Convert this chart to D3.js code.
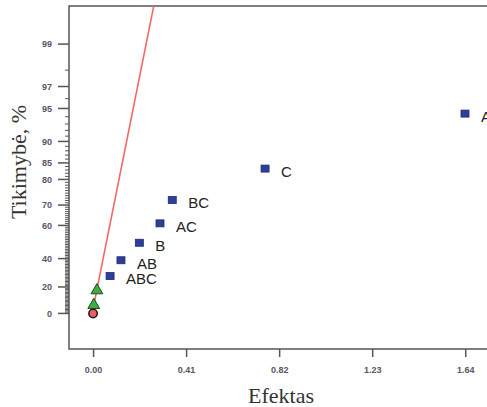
<!DOCTYPE html>
<html>
<head>
<meta charset="utf-8">
<script src="https://cdn.jsdelivr.net/npm/d3@7"></script>
<style>
  body { margin: 0; background: #fff; }
  .tick-label { font-family: "Liberation Sans", Arial, sans-serif; font-size: 9px; font-weight: bold; fill: #5a5560; }
  .pt-label { font-family: "Liberation Sans", Arial, sans-serif; font-size: 15px; fill: #222; }
  .axis-title { font-family: "Liberation Serif", "Times New Roman", serif; font-size: 22px; fill: #333; }
</style>
</head>
<body>
<div class="chart"></div>
<script>
// chart values
var effectNames = ["A", "C", "BC", "AC", "B", "AB", "ABC"];
var effectValues = [1.639, 0.758, 0.349, 0.295, 0.204, 0.123, 0.075];
var effectProbs = [94.4, 83.4, 72.2, 61.1, 50.1, 38.9, 27.9];

// error estimates (green triangles) and the zero point (red circle)
var errorValues = [0.017, 0.003];
var errorProbs = [16.7, 5.6];
var zeroValues = [0.0];
var zeroProbs = [0.0];

// fitted line through the small effects
var lineValues = [-0.004, 0.27];
var lineProbs = [0, 99.7];

var xTicks = [0, 0.41, 0.82, 1.23, 1.64];
var yTicks = [0, 20, 40, 60, 70, 80, 85, 90, 95, 97, 99];

// chart area
var svgWidth = 487;
var svgHeight = 407;
var margin = { top: 6, right: -10, bottom: 58, left: 69 };
var width = svgWidth - margin.left - margin.right;
var height = svgHeight - margin.top - margin.bottom;

// inverse normal cdf (Acklam), used for the half-normal probability scale
function probit(p) {
  var a = [-39.6968302866538, 220.946098424521, -275.928510446969, 138.357751867269, -30.6647980661472, 2.50662827745924];
  var b = [-54.4760987982241, 161.585836858041, -155.698979859887, 66.8013118877197, -13.2806815528857];
  var c = [-0.00778489400243029, -0.322396458041136, -2.40075827716184, -2.54973253934373, 4.37466414146497, 2.93816398269878];
  var d = [0.00778469570904146, 0.32246712907004, 2.445134137143, 3.75440866190742];
  var q, r;
  if (p < 0.02425) {
    q = Math.sqrt(-2 * Math.log(p));
    return (((((c[0]*q+c[1])*q+c[2])*q+c[3])*q+c[4])*q+c[5]) / ((((d[0]*q+d[1])*q+d[2])*q+d[3])*q+1);
  }
  if (p > 1 - 0.02425) {
    q = Math.sqrt(-2 * Math.log(1 - p));
    return -(((((c[0]*q+c[1])*q+c[2])*q+c[3])*q+c[4])*q+c[5]) / ((((d[0]*q+d[1])*q+d[2])*q+d[3])*q+1);
  }
  q = p - 0.5;
  r = q * q;
  return (((((a[0]*r+a[1])*r+a[2])*r+a[3])*r+a[4])*r+a[5])*q / (((((b[0]*r+b[1])*r+b[2])*r+b[3])*r+b[4])*r+1);
}

// half-normal: percent -> z
function halfZ(pct) {
  if (pct <= 0) return 0;
  return probit(0.5 + pct / 200);
}

var svg = d3.select(".chart")
  .append("svg")
  .attr("width", svgWidth)
  .attr("height", svgHeight);

var chartGroup = svg.append("g")
  .attr("transform", `translate(${margin.left}, ${margin.top})`);

var xScale = d3.scaleLinear().domain([-0.106, 1.78]).range([0, width]);
var zScale = d3.scaleLinear().domain([-0.34, 2.94]).range([height, 0]);
var yScale = function(pct) { return zScale(halfZ(pct)); };

svg.append("defs").append("clipPath").attr("id", "plot-clip")
  .append("rect").attr("width", width).attr("height", height);

// frame (right side runs off the picture)
var frameColor = "#555";
chartGroup.append("path")
  .attr("d", `M${width},0H0V${height}H${width}`)
  .attr("fill", "none")
  .attr("stroke", frameColor)
  .attr("stroke-width", 1.5);

// x axis
var bottomAxis = d3.axisBottom(xScale)
  .tickValues(xTicks)
  .tickSize(8)
  .tickPadding(10)
  .tickFormat(d3.format(".2f"));

var xAxis = chartGroup.append("g")
  .attr("transform", `translate(0, ${height})`)
  .call(bottomAxis);
xAxis.select(".domain").remove();
xAxis.selectAll(".tick line").attr("stroke", frameColor).attr("stroke-width", 1.5);
xAxis.selectAll(".tick text").attr("class", "tick-label").attr("font-size", null).attr("font-family", null).attr("fill", null);

// y axis: minor ticks at every percent, major ones labelled
var minorTicks = d3.range(1, 99).filter(function(p) { return yTicks.indexOf(p) < 0; });
chartGroup.append("g")
  .selectAll("line")
  .data(minorTicks)
  .enter()
  .append("line")
  .attr("x1", -4)
  .attr("x2", 0)
  .attr("y1", d => yScale(d))
  .attr("y2", d => yScale(d))
  .attr("stroke", frameColor)
  .attr("stroke-width", 1);

var yAxisG = chartGroup.append("g");
yAxisG.selectAll("line")
  .data(yTicks)
  .enter()
  .append("line")
  .attr("x1", -11)
  .attr("x2", 0)
  .attr("y1", d => yScale(d))
  .attr("y2", d => yScale(d))
  .attr("stroke", frameColor)
  .attr("stroke-width", 1.5);

yAxisG.selectAll("text")
  .data(yTicks)
  .enter()
  .append("text")
  .attr("class", "tick-label")
  .attr("x", -17)
  .attr("y", d => yScale(d))
  .attr("dy", "0.35em")
  .attr("text-anchor", "end")
  .text(d => d);

// fitted line, extended to the top of the plot
var z0 = halfZ(lineProbs[0]), z1 = halfZ(lineProbs[1]);
var slope = (lineValues[1] - lineValues[0]) / (z1 - z0);
var zTop = zScale.domain()[1] + 0.05;
chartGroup.append("line")
  .attr("clip-path", "url(#plot-clip)")
  .attr("x1", xScale(lineValues[0]))
  .attr("y1", zScale(z0))
  .attr("x2", xScale(lineValues[0] + slope * (zTop - z0)))
  .attr("y2", zScale(zTop))
  .attr("stroke", "#ee6a6a")
  .attr("stroke-width", 1.6);

// zero point
chartGroup.selectAll(".zero")
  .data(zeroValues)
  .enter()
  .append("circle")
  .attr("class", "zero")
  .attr("cx", d => xScale(d))
  .attr("cy", (d, i) => yScale(zeroProbs[i]))
  .attr("r", 4.2)
  .attr("fill", "#e8626a")
  .attr("stroke", "#2a1010")
  .attr("stroke-width", 1.5);

// error estimates
var tri = d3.symbol().type(d3.symbolTriangle).size(60);
chartGroup.selectAll(".err")
  .data(errorValues)
  .enter()
  .append("path")
  .attr("class", "err")
  .attr("d", tri)
  .attr("transform", (d, i) => `translate(${xScale(d)}, ${yScale(errorProbs[i]) - 1})`)
  .attr("fill", "#3fae3f")
  .attr("stroke", "#1d4d1d")
  .attr("stroke-width", 1);

// effects
chartGroup.selectAll(".eff")
  .data(effectValues)
  .enter()
  .append("rect")
  .attr("class", "eff")
  .attr("x", d => xScale(d) - 4)
  .attr("y", (d, i) => yScale(effectProbs[i]) - 3.5)
  .attr("width", 8)
  .attr("height", 7)
  .attr("fill", "#2e3f9a")
  .attr("stroke", "#1e2a70")
  .attr("stroke-width", 0.8);

chartGroup.selectAll(".pt-label")
  .data(effectValues)
  .enter()
  .append("text")
  .attr("class", "pt-label")
  .attr("x", d => xScale(d) + 16)
  .attr("y", (d, i) => yScale(effectProbs[i]) + 3)
  .attr("dy", "0.35em")
  .text((d, i) => effectNames[i]);

// axis titles
svg.append("text")
  .attr("class", "axis-title")
  .attr("x", 281)
  .attr("y", 403)
  .attr("text-anchor", "middle")
  .text("Efektas");

svg.append("text")
  .attr("class", "axis-title")
  .attr("transform", "translate(26, 162) rotate(-90)")
  .attr("text-anchor", "middle")
  .text("Tikimybė, %");
</script>
</body>
</html>
